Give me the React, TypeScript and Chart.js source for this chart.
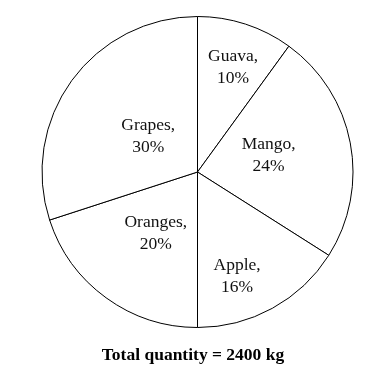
import React, { useEffect, useRef } from "react";
import { Chart, registerables } from "chart.js";

Chart.register(...registerables);

const fruits = ["Guava", "Mango", "Apple", "Oranges", "Grapes"];
const percents = [10, 24, 16, 20, 30];
const TITLE = "Total quantity = 2400 kg";

// label placement inside each slice: fraction of radius and angle nudge (degrees)
const labelRadius = [0.71, 0.47, 0.72, 0.48, 0.39];
const labelAngleNudge = [0.8, -2.4, 8.1, -2, -0.3];

const labelPlugin = {
  id: "sliceLabels",
  afterDatasetsDraw(chart: any) {
    const ctx = chart.ctx;
    const meta = chart.getDatasetMeta(0);
    ctx.save();
    ctx.fillStyle = "#111";
    ctx.textAlign = "center";
    ctx.textBaseline = "middle";
    ctx.font = "17.5px 'Liberation Serif', 'Times New Roman', serif";
    meta.data.forEach((arc: any, i: number) => {
      const p = arc.getProps(["x", "y", "startAngle", "endAngle", "outerRadius"], true);
      const mid = (p.startAngle + p.endAngle) / 2 + (labelAngleNudge[i] * Math.PI) / 180;
      const r = p.outerRadius * labelRadius[i];
      const x = p.x + Math.cos(mid) * r;
      const y = p.y + Math.sin(mid) * r;
      ctx.fillText(fruits[i] + ",", x, y - 11);
      ctx.fillText(percents[i] + "%", x, y + 11);
    });
    ctx.font = "bold 17.5px 'Liberation Serif', 'Times New Roman', serif";
    ctx.fillStyle = "#000";
    ctx.fillText(TITLE, 193, 355);
    ctx.restore();
  },
};

export default function App() {
  const ref = useRef<HTMLCanvasElement>(null);
  useEffect(() => {
    document.body.style.margin = "0";
    const chart = new Chart(ref.current!, {
      type: "pie",
      data: {
        labels: fruits,
        datasets: [
          {
            data: percents,
            backgroundColor: "#ffffff",
            borderColor: "#000000",
            borderWidth: 1,
            hoverOffset: 0,
          },
        ],
      },
      options: {
        animation: false,
        responsive: false,
        devicePixelRatio: 1,
        radius: 155.5,
        events: [],
        layout: { padding: { left: 26, right: 0, top: 0, bottom: 24 } },
        plugins: {
          legend: { display: false },
          tooltip: { enabled: false },
          title: { display: false },
        },
      } as any,
      plugins: [labelPlugin],
    });
    return () => chart.destroy();
  }, []);
  return (
    <div style={{ width: 369, height: 368, background: "#fff" }}>
      <canvas ref={ref} width={369} height={368} />
    </div>
  );
}
